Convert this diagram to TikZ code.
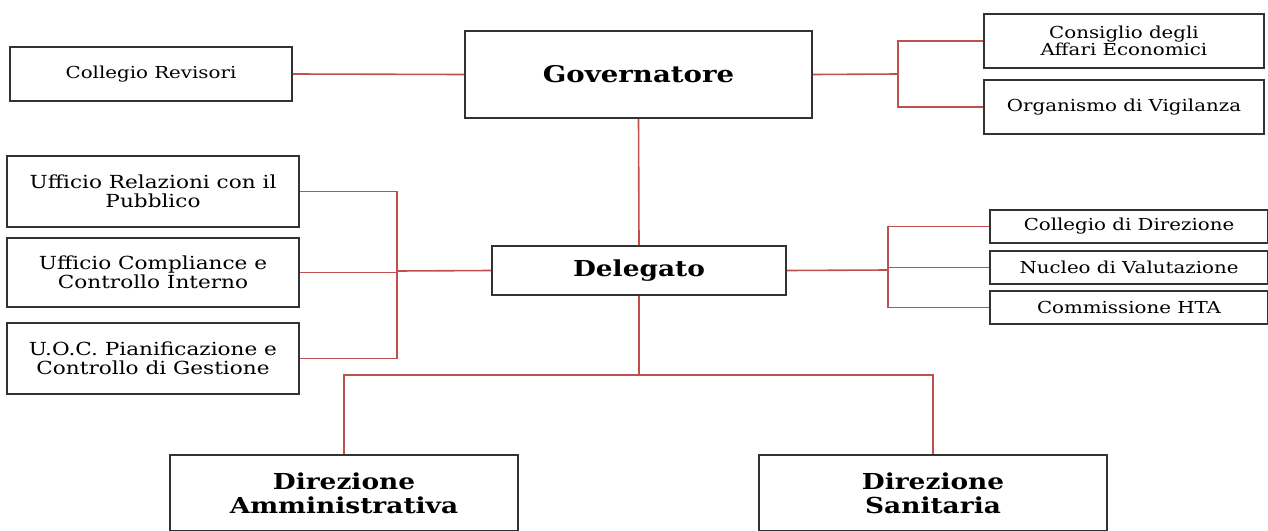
\documentclass[tikz,border=0pt]{standalone}
\usepackage{fontspec}
\setmainfont[FakeStretch=1.2]{DejaVu Serif}
\definecolor{linkred}{RGB}{192,80,77}
\definecolor{boxgray}{RGB}{50,50,50}
\begin{document}
\begin{tikzpicture}[x=1pt,y=-1pt,
  box/.style={draw=boxgray, line width=1.6pt, rectangle, inner sep=0pt, align=center, text=black},
  link/.style={draw=linkred, line width=1.6pt},
  fa/.style={font=\fontsize{16.5}{15.5}\selectfont},
  fb/.style={font=\fontsize{18}{18.5}\selectfont},
  fc/.style={font=\fontsize{22}{24}\selectfont\bfseries},
  fd/.style={font=\fontsize{23}{24}\selectfont\bfseries}]
\useasboundingbox (0,0) rectangle (1268,530);
\clip (0,0) rectangle (1268,530);
% top level
\node[box, fd, minimum width=347pt, minimum height=87pt] (gov) at (638.5,74.5) {Governatore};
\node[box, fa, minimum width=282pt, minimum height=54pt] (rev) at (151,74) {Collegio Revisori};
\node[box, fa, minimum width=280pt, minimum height=54pt] (cae) at (1124,41) {Consiglio degli\\Affari Economici};
\node[box, fa, minimum width=280pt, minimum height=54pt] (odv) at (1124,107) {Organismo di Vigilanza};
% middle level
\node[box, fc, minimum width=294pt, minimum height=49pt] (del) at (639,270.5) {Delegato};
\node[box, fb, minimum width=292pt, minimum height=71pt] (urp) at (153,191.5) {Ufficio Relazioni con il\\Pubblico};
\node[box, fb, minimum width=292pt, minimum height=69pt] (uci) at (153,272.5) {Ufficio Compliance e\\Controllo Interno};
\node[box, fb, minimum width=292pt, minimum height=71pt] (uoc) at (153,358.5) {U.O.C. Pianificazione e\\Controllo di Gestione};
\node[box, fa, minimum width=278pt, minimum height=33pt] (cdd) at (1129,226.5) {Collegio di Direzione};
\node[box, fa, minimum width=278pt, minimum height=33pt] (ndv) at (1129,267.5) {Nucleo di Valutazione};
\node[box, fa, minimum width=278pt, minimum height=33pt] (hta) at (1129,307.5) {Commissione HTA};
% bottom level
\node[box, fc, minimum width=348pt, minimum height=76pt] (dam) at (344,493) {Direzione\\Amministrativa};
\node[box, fc, minimum width=348pt, minimum height=76pt] (dsa) at (933,493) {Direzione\\Sanitaria};
% bus points
\coordinate (bg) at (898,74);
\coordinate (bl) at (397,271);
\coordinate (br) at (888,270);
\coordinate (bb) at (639,375);
% connectors
\draw[link] (rev.east) -- (gov.west);
\draw[link] (gov.east) -- (bg);
\draw[link] (cae.west) -| (bg);
\draw[link] (odv.west) -| (bg);
\draw[link] (gov.south) -- (del.north);
\draw[link] (urp.east) -| (bl);
\draw[link] (uci.east) -| (bl);
\draw[link] (uoc.east) -| (bl);
\draw[link] (bl) -- (del.west);
\draw[link] (del.east) -- (br);
\draw[link] (cdd.west) -| (br);
\draw[link] (ndv.west) -| (br);
\draw[link] (hta.west) -| (br);
\draw[link] (del.south) -- (bb);
\draw[link] (bb) -| (dam.north);
\draw[link] (bb) -| (dsa.north);
\end{tikzpicture}
\end{document}
